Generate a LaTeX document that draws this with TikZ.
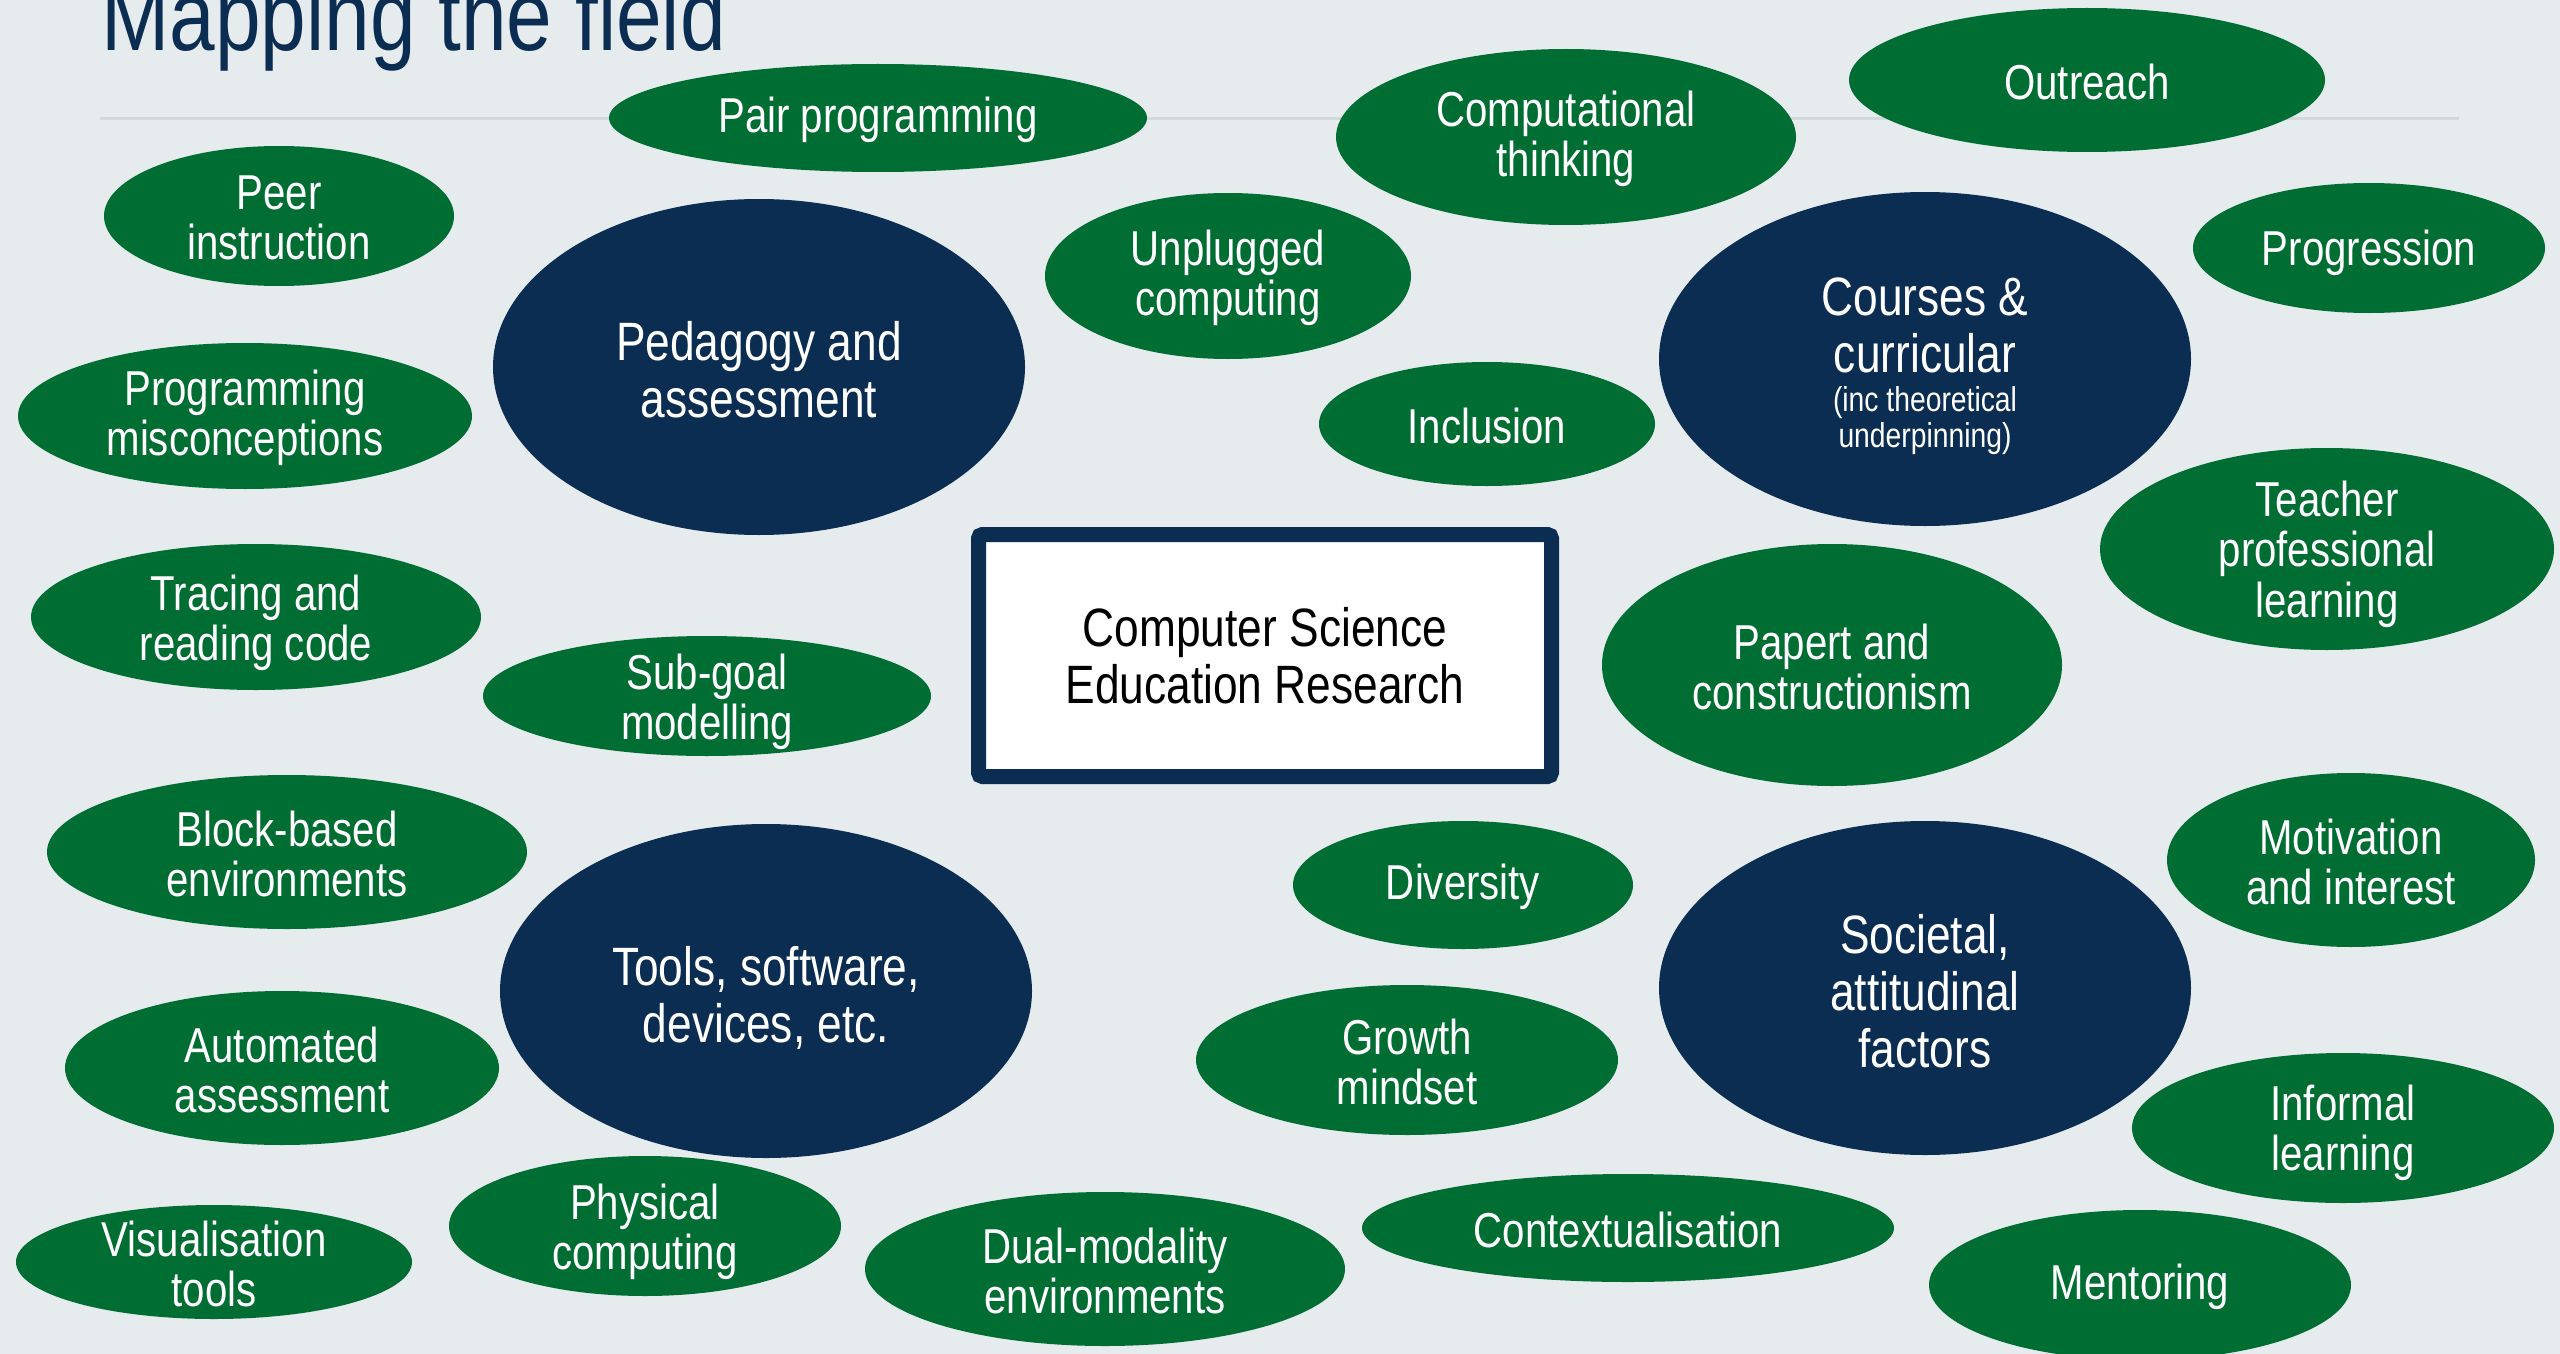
\documentclass[tikz,border=0pt]{standalone}
\usepackage{fontspec}
\setmainfont{Liberation Sans}[FakeStretch=0.82]
\usetikzlibrary{shapes.geometric}

\definecolor{pagebg}{RGB}{230,235,238}
\definecolor{leafgreen}{RGB}{0,110,51}
\definecolor{hubnavy}{RGB}{12,45,82}
\definecolor{rulegrey}{RGB}{210,217,221}

\tikzset{
  leaf/.style={ellipse, fill=leafgreen, draw=none, inner sep=0pt, outer sep=0pt},
  hub/.style={ellipse, fill=hubnavy, draw=none, inner sep=0pt, outer sep=0pt},
  leaftext/.style={text=white, align=center, inner sep=0pt,
    font=\fontsize{24.5}{25.3}\selectfont},
  hubtext/.style={text=white, align=center, inner sep=0pt,
    font=\fontsize{27}{28.5}\selectfont},
  hubnote/.style={text=white, align=center, inner sep=0pt,
    font=\fontsize{17.25}{18}\selectfont},
}

% [#1 extra text drop in pt] #2 name, #3 x, #4 y, #5 half width, #6 half height, #7 text
\newcommand{\leafbubble}[7][0]{%
  \node[leaf, minimum width=#5pt, minimum height=#6pt] (#2) at (#3,#4) {};
  \node[leaftext] (#2-t) at ([yshift=-1pt-#1pt]#2.center) {#7};}
\newcommand{\hubbubble}[7][0]{%
  \node[hub, minimum width=#5pt, minimum height=#6pt] (#2) at (#3,#4) {};
  \node[hubtext] (#2-t) at ([yshift=-1.5pt-#1pt]#2.center) {#7};}

\begin{document}
\begin{tikzpicture}[x=0.5pt, y=-0.5pt]
  \useasboundingbox (0,0) rectangle (2560,1354);
  \clip (0,0) rectangle (2560,1354);
  \fill[pagebg] (0,0) rectangle (2560,1354);

  % heading and rule
  \node[anchor=base west, inner sep=0pt, text=hubnavy,
        font=\fontsize{50}{60}\selectfont] (title) at (101,51) {Mapping the field};
  \coordinate (rule-l) at (100,119);
  \coordinate (rule-r) at (2459,119);
  \draw[rulegrey, line width=1.5pt] (rule-l) -- (rule-r);

  % topic bubbles
  \leafbubble{pair}{878}{118}{269}{54}{Pair programming}
  \leafbubble{ct}{1566}{137}{230}{88}{Computational\\thinking}
  \leafbubble{outreach}{2087}{80}{238}{72}{Outreach}
  \leafbubble{peer}{279}{216}{175}{70}{Peer\\instruction}
  \leafbubble{unplugged}{1228}{276}{183}{83}{Unplugged\\computing}
  \leafbubble[1.5]{progression}{2369}{248}{176}{65}{Progression}
  \leafbubble{misconc}{245}{416}{227}{73}{Programming\\misconceptions}
  \leafbubble{inclusion}{1487}{424}{168}{62}{Inclusion}
  \leafbubble[1.5]{tpl}{2327}{549}{227}{101}{Teacher\\professional\\learning}
  \leafbubble[2]{tracing}{256}{617}{225}{73}{Tracing and\\reading code}
  \leafbubble[2]{subgoal}{707}{696}{224}{60}{Sub-goal\\modelling}
  \leafbubble{papert}{1832}{665}{230}{121}{Papert and\\constructionism}
  \leafbubble{block}{287}{852}{240}{77}{Block-based\\environments}
  \leafbubble{motiv}{2351}{860}{184}{87}{Motivation\\and interest}
  \leafbubble{diversity}{1463}{885}{170}{64}{Diversity}
  \leafbubble{autoassess}{282}{1068}{217}{77}{Automated\\assessment}
  \leafbubble{growth}{1407}{1060}{211}{75}{Growth\\mindset}
  \leafbubble[1.5]{informal}{2343}{1128}{211}{75}{Informal\\learning}
  \leafbubble{visual}{214}{1262}{198}{57}{Visualisation\\tools}
  \leafbubble[2]{physical}{645}{1226}{196}{70}{Physical\\computing}
  \leafbubble{dual}{1105}{1269}{240}{77}{Dual-modality\\environments}
  \leafbubble{context}{1628}{1228}{266}{54}{Contextualisation}
  \leafbubble{mentoring}{2140}{1285}{211}{75}{Mentoring}

  % theme bubbles
  \hubbubble{pedagogy}{759}{367}{266}{168}{Pedagogy and\\assessment}
  \hubbubble[2]{tools}{766}{991}{266}{167}{Tools, software,\\devices, etc.}
  \hubbubble{societal}{1925}{988}{266}{167}{Societal,\\attitudinal\\factors}
  \node[hub, minimum width=266pt, minimum height=167pt] (courses) at (1925,359) {};
  \node[hubtext] (courses-t) at (1925,325) {Courses \&\\curricular};
  \node[hubnote] (courses-n) at (1925,421) {(inc theoretical\\underpinning)};

  % central box
  \node[draw=hubnavy, fill=white, line width=7.5pt, rounded corners=2pt,
        minimum width=286.5pt, minimum height=121pt, align=center,
        font=\fontsize{27}{28.5}\selectfont, text=black] (cser) at (1265,655.5)
        {Computer Science\\Education Research};
\end{tikzpicture}
\end{document}
